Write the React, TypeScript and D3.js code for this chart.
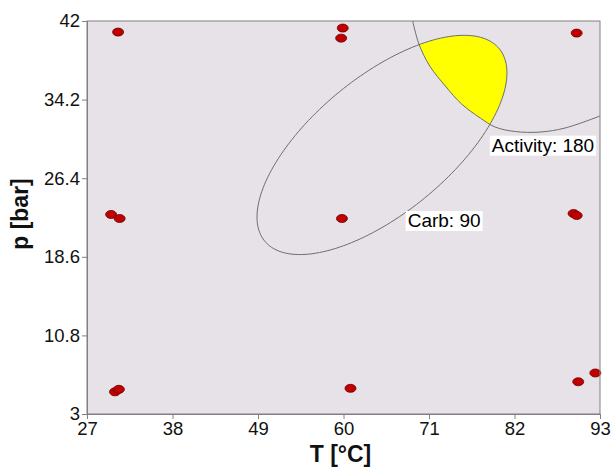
import React, { useEffect, useRef } from "react";
import * as d3 from "d3";

const W = 611;
const H = 467;

// axis ticks
const tempTicks = [27, 38, 49, 60, 71, 82, 93];
const pressTicks = [3, 10.8, 18.6, 26.4, 34.2, 42];

// experimental runs: temperature [°C] and pressure [bar]
const runT = [31.0, 59.9, 59.7, 90.0, 30.1, 31.2, 59.8, 89.6, 90.0, 30.6, 31.1, 60.9, 90.2, 92.4];
const runP = [40.9, 41.3, 40.3, 40.8, 22.8, 22.4, 22.4, 22.9, 22.7, 5.2, 5.45, 5.55, 6.2, 7.07];

// Carb = 90 contour: centre and two conjugate half-axes, in (T, p)
const carbLevel = 90;
const carbCentre = [64.95, 29.7];
const carbAxisU = [16.08, 7.15];
const carbAxisV = [0, 8.2];
const carbLabelAt = [68.26, 21.56];

// Activity = 180 contour, traced from the top edge to the right edge
const activityLevel = 180;
const activityT = [68.9, 69.7, 71.1, 73.1, 75.2, 77.6, 79.5, 82.1, 85.3, 88.5, 93.0];
const activityP = [42.0, 39.72, 37.53, 35.55, 33.76, 32.37, 31.48, 31.03, 30.98, 31.38, 32.57];
const activityLabelAt = [79.07, 29.03];

const FONT = "'Liberation Sans', Arial, sans-serif";

export default function App() {
  const ref = useRef<SVGSVGElement | null>(null);

  useEffect(() => {
    const svg = d3.select(ref.current);
    svg.selectAll("*").remove();

    const left = 87, right = 600, top = 21, bottom = 414;
    const x = d3.scaleLinear().domain([27, 93]).range([left, right]);
    const y = d3.scaleLinear().domain([3, 42]).range([bottom, top]);

    const defs = svg.append("defs");
    defs.append("clipPath").attr("id", "plot-clip")
      .append("rect").attr("x", left).attr("y", top)
      .attr("width", right - left).attr("height", bottom - top);

    // Carb ellipse outline
    const n = 180;
    const carbPts: [number, number][] = d3.range(n + 1).map((i) => {
      const t = (i / n) * Math.PI * 2;
      const T = carbCentre[0] + carbAxisU[0] * Math.cos(t) + carbAxisV[0] * Math.sin(t);
      const P = carbCentre[1] + carbAxisU[1] * Math.cos(t) + carbAxisV[1] * Math.sin(t);
      return [x(T), y(P)];
    });
    const closedLine = d3.line().curve(d3.curveLinearClosed);
    const carbPath = closedLine(carbPts.slice(0, n)) as string;

    defs.append("clipPath").attr("id", "carb-clip")
      .append("path").attr("d", carbPath);

    // plot background
    svg.append("rect")
      .attr("x", left).attr("y", top)
      .attr("width", right - left).attr("height", bottom - top)
      .attr("fill", "#e7e2e7");

    const plot = svg.append("g").attr("clip-path", "url(#plot-clip)");

    const actPts: [number, number][] = activityT.map((T, i) => [x(T), y(activityP[i])]);
    const curveLine = d3.line().curve(d3.curveCatmullRom.alpha(0.5));

    // feasible region: Activity >= 180 inside the Carb ellipse
    const regionPath =
      (curveLine(actPts) as string) + `L${x(93)},${y(42)}L${x(activityT[0])},${y(42)}Z`;
    plot.append("g").attr("clip-path", "url(#carb-clip)")
      .append("path")
      .attr("d", regionPath)
      .attr("fill", "#ffff00");

    plot.append("path")
      .attr("d", carbPath)
      .attr("fill", "none")
      .attr("stroke", "#6e6e6e")
      .attr("stroke-width", 1);

    plot.append("path")
      .attr("d", curveLine(actPts) as string)
      .attr("fill", "none")
      .attr("stroke", "#6e6e6e")
      .attr("stroke-width", 1);

    // runs
    svg.append("g").selectAll("ellipse")
      .data(runT.map((T, i) => [T, runP[i]]))
      .join("ellipse")
      .attr("cx", (d) => x(d[0]))
      .attr("cy", (d) => y(d[1]))
      .attr("rx", 5.5)
      .attr("ry", 4)
      .attr("fill", "#c00000")
      .attr("stroke", "#6a0000")
      .attr("stroke-width", 0.8);

    // contour labels on white boxes
    const addLabel = (txt: string, at: number[]) => {
      const g = svg.append("g");
      const rect = g.append("rect").attr("fill", "#ffffff");
      const t = g.append("text")
        .attr("x", x(at[0])).attr("y", y(at[1]))
        .attr("font-family", FONT).attr("font-size", 19)
        .attr("fill", "#000").text(txt);
      const bb = (t.node() as SVGTextElement).getBBox();
      rect.attr("x", bb.x - 2).attr("y", bb.y + 1)
        .attr("width", bb.width + 4).attr("height", bb.height - 1);
    };
    addLabel(`Carb: ${carbLevel}`, carbLabelAt);
    addLabel(`Activity: ${activityLevel}`, activityLabelAt);

    // frame
    svg.append("rect")
      .attr("x", left).attr("y", top)
      .attr("width", right - left).attr("height", bottom - top)
      .attr("fill", "none").attr("stroke", "#808080").attr("stroke-width", 1);

    // axes
    const styleAxis = (g: d3.Selection<SVGGElement, unknown, null, undefined>) => {
      g.selectAll(".domain").attr("stroke", "#808080");
      g.selectAll(".tick line").attr("stroke", "#808080");
      g.selectAll(".tick text")
        .attr("font-family", FONT).attr("font-size", 18.5).attr("fill", "#111");
    };

    const xAxis = svg.append("g")
      .attr("transform", `translate(0,${bottom})`)
      .call(d3.axisBottom(x).tickValues(tempTicks).tickSize(5).tickSizeOuter(0).tickPadding(3)
        .tickFormat((d) => String(d)));
    styleAxis(xAxis as any);

    const yAxis = svg.append("g")
      .attr("transform", `translate(${left},0)`)
      .call(d3.axisLeft(y).tickValues(pressTicks).tickSize(5).tickSizeOuter(0).tickPadding(2)
        .tickFormat((d) => String(d)));
    styleAxis(yAxis as any);

    // axis titles
    svg.append("text")
      .attr("x", (left + right) / 2 - 3).attr("y", 462)
      .attr("text-anchor", "middle")
      .attr("font-family", FONT).attr("font-size", 23).attr("font-weight", "bold")
      .attr("fill", "#111")
      .text("T [°C]");

    svg.append("text")
      .attr("transform", `translate(28,${214}) rotate(-90)`)
      .attr("text-anchor", "middle")
      .attr("font-family", FONT).attr("font-size", 23).attr("font-weight", "bold")
      .attr("fill", "#111")
      .text("p [bar]");
  }, []);

  return (
    <svg
      ref={ref}
      width={W}
      height={H}
      style={{ position: "absolute", left: 0, top: 0, background: "#ffffff" }}
    />
  );
}
